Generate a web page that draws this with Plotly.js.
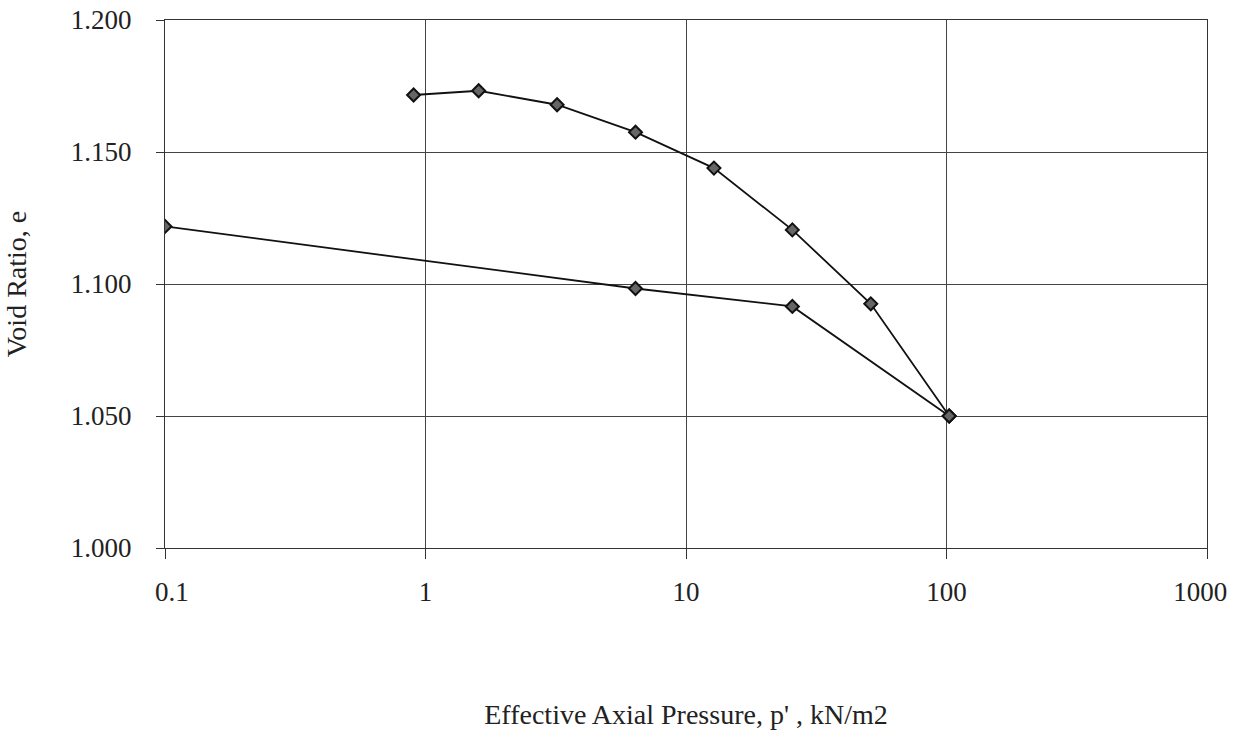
<!DOCTYPE html>
<html>
<head>
<meta charset="utf-8">
<script src="https://cdn.plot.ly/plotly-3.0.1.min.js"></script>
<style>html,body{margin:0;padding:0;background:#fff;}#chart{width:1245px;height:737px;}</style>
</head>
<body>
<div id="chart"></div>
<script>
// Loading branch
const loadPressure = [0.9, 1.6, 3.2, 6.4, 12.8, 25.6, 51.2, 102.4];
const loadVoid = [1.1716, 1.1732, 1.1679, 1.1575, 1.1439, 1.1205, 1.0925, 1.0500];
// Unloading branch
const unloadPressure = [102.4, 25.6, 6.4, 0.1];
const unloadVoid = [1.0500, 1.0915, 1.0983, 1.1218];
// Axis ticks
const xTickVals = [0.1, 1, 10, 100, 1000];
const xTickText = ['\u00a0\u00a00.1', '1', '10', '100', '1000\u00a0\u00a0'];
const yTickVals = [1.000, 1.050, 1.100, 1.150, 1.200];

const markerStyle = {symbol: 'diamond', size: 10, color: '#666', line: {color: '#111', width: 2}};
const lineStyle = {color: '#111', width: 1.8};

const traces = [
  {x: loadPressure, y: loadVoid, type: 'scatter', mode: 'lines+markers', line: lineStyle, marker: markerStyle, showlegend: false},
  {x: unloadPressure, y: unloadVoid, type: 'scatter', mode: 'lines+markers', line: lineStyle, marker: markerStyle, showlegend: false}
];

const font = {family: '"Liberation Serif", "Times New Roman", serif', size: 27, color: '#222'};
const titleFont = {family: '"Liberation Serif", "Times New Roman", serif', size: 28, color: '#222'};

const layout = {
  width: 1245, height: 737,
  margin: {l: 165, r: 38, t: 20, b: 189},
  paper_bgcolor: '#fff', plot_bgcolor: '#fff',
  font: font,
  showlegend: false,
  xaxis: {
    type: 'log',
    range: [-1, 3],
    tickvals: xTickVals, ticktext: xTickText,
    ticks: 'outside', ticklen: 10, tickcolor: '#333', tickwidth: 1,
    ticklabelstandoff: 10,
    showgrid: true, gridcolor: '#444', gridwidth: 1,
    showline: true, linecolor: '#333', linewidth: 1, mirror: true,
    zeroline: false,
    tickfont: font,
    title: {text: "Effective Axial Pressure, p' , kN/m2", font: titleFont, standoff: 97}
  },
  yaxis: {
    range: [1.0, 1.2],
    tickvals: yTickVals, tickformat: '.3f',
    ticks: 'outside', ticklen: 8, tickcolor: '#333', tickwidth: 1,
    ticklabelstandoff: 19,
    showgrid: true, gridcolor: '#444', gridwidth: 1,
    showline: true, linecolor: '#333', linewidth: 1, mirror: true,
    zeroline: false,
    tickfont: font,
    title: {text: 'Void Ratio, e', font: titleFont, standoff: 36}
  }
};

Plotly.newPlot('chart', traces, layout, {displayModeBar: false, staticPlot: true});
</script>
</body>
</html>
